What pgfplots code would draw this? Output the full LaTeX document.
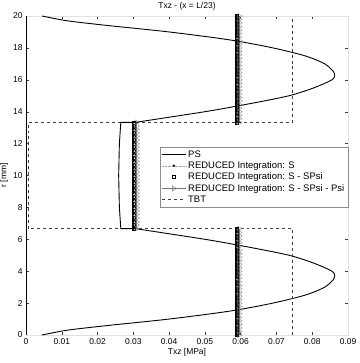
\documentclass[border=0pt]{standalone}
\usepackage{fontspec}
\setmainfont{Liberation Sans}
\usepackage{pgfplots}
\usepackage{pgfplotstable}
\pgfplotsset{compat=1.18}

\pgfplotstableread{
y x
0.00 0.0045
0.30 0.0115
0.60 0.0230
1.00 0.0400
1.50 0.0570
2.00 0.0690
2.50 0.0780
3.00 0.0835
3.50 0.0860
3.70 0.0863
4.00 0.0855
4.50 0.0805
5.00 0.0735
5.50 0.0625
6.00 0.0500
6.67 0.0305
}\pslow

\pgfplotstableread{
y x
6.67 0.0305
6.67 0.0265
8.00 0.0261
10.00 0.0259
12.00 0.0261
13.33 0.0265
13.33 0.0305
}\pscore

\pgfplotstableread{
y x
13.33 0.0305
14.00 0.0500
14.50 0.0625
15.00 0.0735
15.50 0.0805
16.00 0.0855
16.30 0.0863
16.50 0.0860
17.00 0.0835
17.50 0.0780
18.00 0.0690
18.50 0.0570
19.00 0.0400
19.40 0.0230
19.70 0.0115
20.00 0.0045
}\psup

\pgfplotstableread{
y x
0.00 0.0745
6.67 0.0745
6.67 0.0005
13.33 0.0005
13.33 0.0745
20.00 0.0745
}\tbt

\pgfplotstableread{
y s sp spp
0.00 0.0589 0.0590 0.0596
0.22 0.0589 0.0590 0.0596
0.44 0.0589 0.0590 0.0596
0.67 0.0589 0.0590 0.0596
0.89 0.0589 0.0590 0.0596
1.11 0.0589 0.0590 0.0596
1.33 0.0589 0.0590 0.0596
1.56 0.0589 0.0590 0.0596
1.78 0.0589 0.0590 0.0596
2.00 0.0589 0.0590 0.0596
2.22 0.0589 0.0590 0.0596
2.44 0.0589 0.0590 0.0596
2.67 0.0589 0.0590 0.0596
2.89 0.0589 0.0590 0.0596
3.11 0.0589 0.0590 0.0596
3.33 0.0589 0.0590 0.0596
3.56 0.0589 0.0590 0.0596
3.78 0.0589 0.0590 0.0596
4.00 0.0589 0.0590 0.0596
4.22 0.0589 0.0590 0.0596
4.44 0.0589 0.0590 0.0596
4.67 0.0589 0.0590 0.0596
4.89 0.0589 0.0590 0.0596
5.11 0.0589 0.0590 0.0596
5.33 0.0589 0.0590 0.0596
5.56 0.0589 0.0590 0.0596
5.78 0.0589 0.0590 0.0596
6.00 0.0589 0.0590 0.0596
6.22 0.0589 0.0590 0.0596
6.44 0.0589 0.0590 0.0596
6.67 0.0589 0.0590 0.0596
6.67 nan nan nan
6.67 0.0300 0.0302 0.0309
6.89 0.0300 0.0302 0.0309
7.11 0.0300 0.0302 0.0309
7.33 0.0300 0.0302 0.0309
7.56 0.0300 0.0302 0.0309
7.78 0.0300 0.0302 0.0309
8.00 0.0300 0.0302 0.0309
8.22 0.0300 0.0302 0.0309
8.44 0.0300 0.0302 0.0309
8.67 0.0300 0.0302 0.0309
8.89 0.0300 0.0302 0.0309
9.11 0.0300 0.0302 0.0309
9.33 0.0300 0.0302 0.0309
9.56 0.0300 0.0302 0.0309
9.78 0.0300 0.0302 0.0309
10.00 0.0300 0.0302 0.0309
10.22 0.0300 0.0302 0.0309
10.44 0.0300 0.0302 0.0309
10.67 0.0300 0.0302 0.0309
10.89 0.0300 0.0302 0.0309
11.11 0.0300 0.0302 0.0309
11.33 0.0300 0.0302 0.0309
11.56 0.0300 0.0302 0.0309
11.78 0.0300 0.0302 0.0309
12.00 0.0300 0.0302 0.0309
12.22 0.0300 0.0302 0.0309
12.44 0.0300 0.0302 0.0309
12.67 0.0300 0.0302 0.0309
12.89 0.0300 0.0302 0.0309
13.11 0.0300 0.0302 0.0309
13.33 0.0300 0.0302 0.0309
13.33 nan nan nan
13.33 0.0589 0.0590 0.0596
13.56 0.0589 0.0590 0.0596
13.78 0.0589 0.0590 0.0596
14.00 0.0589 0.0590 0.0596
14.22 0.0589 0.0590 0.0596
14.44 0.0589 0.0590 0.0596
14.67 0.0589 0.0590 0.0596
14.89 0.0589 0.0590 0.0596
15.11 0.0589 0.0590 0.0596
15.33 0.0589 0.0590 0.0596
15.56 0.0589 0.0590 0.0596
15.78 0.0589 0.0590 0.0596
16.00 0.0589 0.0590 0.0596
16.22 0.0589 0.0590 0.0596
16.44 0.0589 0.0590 0.0596
16.67 0.0589 0.0590 0.0596
16.89 0.0589 0.0590 0.0596
17.11 0.0589 0.0590 0.0596
17.33 0.0589 0.0590 0.0596
17.56 0.0589 0.0590 0.0596
17.78 0.0589 0.0590 0.0596
18.00 0.0589 0.0590 0.0596
18.22 0.0589 0.0590 0.0596
18.44 0.0589 0.0590 0.0596
18.67 0.0589 0.0590 0.0596
18.89 0.0589 0.0590 0.0596
19.11 0.0589 0.0590 0.0596
19.33 0.0589 0.0590 0.0596
19.56 0.0589 0.0590 0.0596
19.78 0.0589 0.0590 0.0596
20.00 0.0589 0.0590 0.0596
}\red

\begin{document}
\begin{tikzpicture}
\begin{axis}[
  name=ax,
  scale only axis,
  width=322bp, height=319bp,
  xmin=0, xmax=0.09, ymin=0, ymax=20,
  scaled x ticks=false,
  xtick={0,0.01,0.02,0.03,0.04,0.05,0.06,0.07,0.08,0.09},
  xticklabels={0,0.01,0.02,0.03,0.04,0.05,0.06,0.07,0.08,0.09},
  ytick={0,2,4,6,8,10,12,14,16,18,20},
  tick align=inside,
  major tick length=3bp,
  axis line style={black!12},
  tick style={black!75, line width=0.4pt},
  font=\fontsize{8.5}{10}\selectfont,
  /pgf/number format/assume math mode=true,
  title={Txz - (x = L/23)},
  title style={yshift=-4bp},
  xlabel={Txz [MPa]},
  xlabel style={yshift=2.5bp},
  ylabel={r [mm]},
  ylabel style={yshift=-2bp},
  unbounded coords=jump,
  legend style={at={(axis cs:0.0374,11.8)}, anchor=north west,
    draw=black!45, fill=white, font=\fontsize{9.5}{10.5}\selectfont,
    inner sep=1.5pt, row sep=-1pt, cells={anchor=west}},
  legend image code/.code={\draw[mark repeat=2, mark phase=2, #1]
    plot coordinates {(0cm,0cm) (0.42cm,0cm) (0.84cm,0cm)};},
]
\addplot[black, line width=0.9pt, smooth] table[x=x, y=y] {\pslow};
\addlegendentry{PS}
\addplot[black!35, densely dotted, line width=0.4pt, mark=*, mark size=1pt,
  mark options={solid, black}] table[x=s, y=y] {\red};
\addlegendentry{REDUCED Integration: S}
\addplot[black, only marks, mark=square, mark size=1.5pt,
  mark options={line width=0.4pt}] table[x=sp, y=y] {\red};
\addlegendentry{REDUCED Integration: S - SPsi}
\addplot[black!55, line width=0.4pt, mark=triangle, mark size=3pt,
  mark options={rotate=-90, line width=0.3pt}] table[x=spp, y=y] {\red};
\addlegendentry{REDUCED Integration: S - SPsi - Psi}
\addplot[black!75, dashed, line width=0.5pt] table[x=x, y=y] {\tbt};
\addlegendentry{TBT}
\addplot[black, line width=0.9pt, forget plot] table[x=x, y=y] {\pscore};
\addplot[black, line width=0.9pt, smooth, forget plot] table[x=x, y=y] {\psup};
\draw[black, line width=0.6pt] (rel axis cs:0,1) -- (rel axis cs:0,0);
\end{axis}
\pgfresetboundingbox
\path ([xshift=-26bp,yshift=-28bp]ax.south west) rectangle ([xshift=12bp,yshift=16bp]ax.north east);
\end{tikzpicture}
\end{document}
